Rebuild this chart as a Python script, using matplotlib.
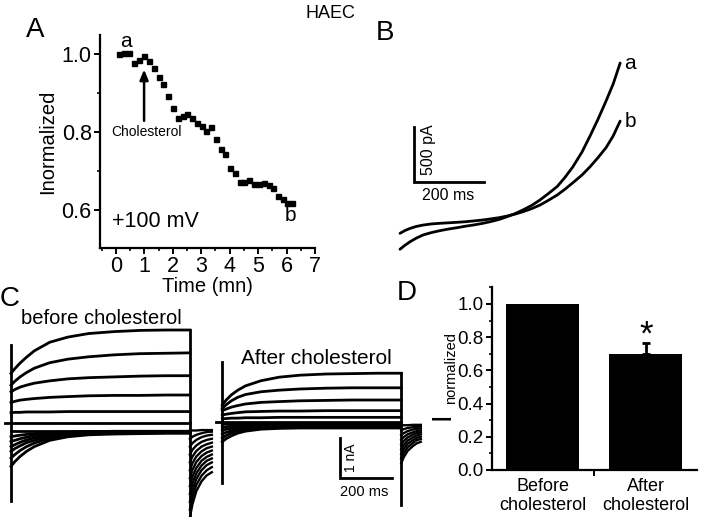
import matplotlib
matplotlib.use("Agg")
import matplotlib.pyplot as plt
from matplotlib.ticker import MultipleLocator, FixedLocator, FormatStrFormatter
import numpy as np

plt.rcParams['font.family'] = ['Liberation Sans', 'DejaVu Sans']

# ---------------- data ----------------
# Panel A: normalized current vs time (min)
time_A = [0.12, 0.29, 0.47, 0.65, 0.82, 0.99, 1.16, 1.34, 1.50, 1.67, 1.83, 2.00,
          2.17, 2.35, 2.51, 2.68, 2.84, 3.02, 3.18, 3.35, 3.52, 3.68, 3.85, 4.01,
          4.18, 4.36, 4.52, 4.69, 4.86, 5.02, 5.19, 5.37, 5.53, 5.69, 5.87, 6.03, 6.20]
inorm_A = [1.000, 1.004, 1.003, 0.977, 0.985, 0.996, 0.984, 0.966, 0.941, 0.924, 0.893, 0.862,
           0.836, 0.842, 0.847, 0.836, 0.823, 0.817, 0.803, 0.812, 0.783, 0.757, 0.744, 0.709,
           0.696, 0.673, 0.672, 0.677, 0.668, 0.667, 0.669, 0.664, 0.656, 0.636, 0.628, 0.617, 0.617]

# Panel B: ramp currents (ms, pA)
t_B = [0, 14, 29, 46, 66, 89, 114, 137, 163, 186, 209, 234, 257, 283, 306,
       329, 351, 377, 400, 423, 449, 471, 494, 520, 543, 566, 589, 609, 629]
trace_a = [-175, -139, -106, -75, -45, -24, -6, 8, 21, 34, 45, 59, 75, 96, 121,
           149, 182, 225, 273, 329, 395, 477, 575, 709, 855, 1009, 1175, 1327, 1518]
trace_b = [-30, -5, 15, 32, 45, 55, 61, 65, 70, 75, 82, 90, 100, 112, 127,
           145, 166, 195, 227, 268, 318, 370, 430, 500, 575, 659, 750, 855, 990]

# Panel C: step currents (ms, nA)
t_step = [0, 15, 35, 60, 90, 150, 220, 300, 400, 500, 600, 692]
before_out = [
    [1.26, 1.38, 1.52, 1.67, 1.83, 2.05, 2.18, 2.27, 2.32, 2.35, 2.36, 2.36],
    [0.96, 1.06, 1.17, 1.28, 1.39, 1.53, 1.62, 1.68, 1.73, 1.76, 1.77, 1.78],
    [0.79, 0.85, 0.91, 0.96, 1.01, 1.07, 1.12, 1.15, 1.17, 1.19, 1.20, 1.20],
    [0.52, 0.55, 0.58, 0.60, 0.62, 0.65, 0.67, 0.69, 0.70, 0.70, 0.71, 0.71],
    [0.26, 0.27, 0.27, 0.28, 0.28, 0.28, 0.29, 0.29, 0.29, 0.29, 0.29, 0.29],
]
before_in = [
    [-0.20, -0.20, -0.20, -0.20, -0.20, -0.20, -0.20, -0.20, -0.20, -0.20, -0.20, -0.20],
    [-0.35, -0.33, -0.31, -0.29, -0.27, -0.24, -0.23, -0.22, -0.21, -0.21, -0.21, -0.21],
    [-0.47, -0.44, -0.40, -0.36, -0.32, -0.28, -0.25, -0.23, -0.23, -0.22, -0.22, -0.22],
    [-0.60, -0.55, -0.49, -0.43, -0.38, -0.31, -0.27, -0.25, -0.24, -0.23, -0.23, -0.23],
    [-0.72, -0.65, -0.58, -0.50, -0.44, -0.35, -0.29, -0.26, -0.25, -0.24, -0.24, -0.24],
    [-0.89, -0.80, -0.70, -0.60, -0.51, -0.39, -0.32, -0.28, -0.26, -0.26, -0.25, -0.25],
    [-1.10, -0.98, -0.85, -0.72, -0.60, -0.44, -0.35, -0.30, -0.28, -0.27, -0.26, -0.26],
]
after_out = [
    [0.42, 0.55, 0.68, 0.80, 0.91, 1.04, 1.13, 1.18, 1.21, 1.22, 1.23, 1.23],
    [0.34, 0.43, 0.53, 0.62, 0.69, 0.76, 0.80, 0.83, 0.85, 0.86, 0.86, 0.86],
    [0.28, 0.32, 0.37, 0.41, 0.45, 0.49, 0.51, 0.53, 0.54, 0.55, 0.55, 0.55],
    [0.17, 0.19, 0.21, 0.23, 0.25, 0.26, 0.27, 0.27, 0.28, 0.28, 0.28, 0.28],
    [0.07, 0.08, 0.09, 0.09, 0.10, 0.10, 0.11, 0.11, 0.11, 0.11, 0.11, 0.11],
]
after_in = [
    [-0.06, -0.06, -0.05, -0.05, -0.05, -0.05, -0.05, -0.05, -0.05, -0.05, -0.05, -0.05],
    [-0.14, -0.13, -0.11, -0.10, -0.09, -0.08, -0.08, -0.08, -0.08, -0.08, -0.08, -0.08],
    [-0.22, -0.19, -0.17, -0.14, -0.13, -0.11, -0.10, -0.10, -0.10, -0.10, -0.10, -0.10],
    [-0.31, -0.27, -0.23, -0.19, -0.16, -0.14, -0.13, -0.12, -0.12, -0.12, -0.12, -0.12],
    [-0.41, -0.35, -0.29, -0.24, -0.20, -0.16, -0.15, -0.14, -0.14, -0.14, -0.14, -0.14],
    [-0.51, -0.43, -0.36, -0.29, -0.24, -0.19, -0.17, -0.16, -0.16, -0.16, -0.16, -0.16],
]
t_tail_before = [0, 10, 25, 45, 65, 85]
tail_before = [
    [-0.20, -0.19, -0.19, -0.18, -0.18, -0.18],
    [-0.40, -0.35, -0.30, -0.26, -0.23, -0.22],
    [-0.60, -0.51, -0.43, -0.36, -0.32, -0.30],
    [-0.80, -0.68, -0.57, -0.48, -0.43, -0.40],
    [-1.00, -0.85, -0.71, -0.60, -0.54, -0.50],
    [-1.20, -1.02, -0.85, -0.72, -0.64, -0.60],
    [-1.40, -1.19, -0.99, -0.84, -0.75, -0.70],
    [-1.60, -1.36, -1.14, -0.96, -0.86, -0.80],
    [-1.80, -1.53, -1.28, -1.08, -0.96, -0.90],
    [-2.00, -1.70, -1.42, -1.20, -1.07, -1.00],
    [-2.20, -1.88, -1.57, -1.34, -1.20, -1.12],
    [-2.40, -2.06, -1.73, -1.48, -1.33, -1.25],
]
t_tail_after = [0, 10, 25, 45, 60, 76]
tail_after = [
    [-0.10, -0.09, -0.09, -0.08, -0.08, -0.08],
    [-0.22, -0.19, -0.16, -0.14, -0.13, -0.12],
    [-0.34, -0.29, -0.24, -0.20, -0.18, -0.17],
    [-0.46, -0.39, -0.32, -0.27, -0.24, -0.22],
    [-0.58, -0.49, -0.40, -0.33, -0.29, -0.27],
    [-0.70, -0.59, -0.48, -0.40, -0.35, -0.32],
    [-0.82, -0.69, -0.56, -0.47, -0.41, -0.38],
    [-0.94, -0.79, -0.65, -0.54, -0.47, -0.44],
    [-1.06, -0.90, -0.74, -0.62, -0.55, -0.51],
]
cap_before = (1.98, -1.98)
cap_after = (1.52, -1.56)
off_before = (2.36, -2.41)
off_after = (1.23, -2.11)

# Panel D
categories_D = ['Before\ncholesterol', 'After\ncholesterol']
values_D = [1.0, 0.70]
sem_D = [0.0, 0.065]

# ---------------- figure ----------------
W, H = 703, 517
fig = plt.figure(figsize=(W / 100, H / 100), dpi=100)


def ax_px(x0, y0, x1, y1):
    return fig.add_axes([x0 / W, 1 - y1 / H, (x1 - x0) / W, (y1 - y0) / H])


def ftext(x, y, s, **kw):
    fig.text(x / W, 1 - y / H, s, **kw)


LW = 2.0

# ---- Panel A ----
axA = ax_px(100, 35, 315, 248)
axA.plot(time_A, inorm_A, ls='none', marker='s', ms=3.6, color='black')
axA.set_xlim(-0.56, 7.0)
axA.set_ylim(0.5026, 1.0495)
for s in ['top', 'right']:
    axA.spines[s].set_visible(False)
for s in ['left', 'bottom']:
    axA.spines[s].set_linewidth(1.6)
axA.xaxis.set_major_locator(MultipleLocator(1))
axA.xaxis.set_minor_locator(MultipleLocator(0.5))
axA.yaxis.set_major_locator(FixedLocator([0.6, 0.8, 1.0]))
axA.yaxis.set_minor_locator(FixedLocator([0.7, 0.9]))
axA.yaxis.set_major_formatter(FormatStrFormatter('%.1f'))
axA.tick_params(which='major', length=4, width=1.4, labelsize=15.5, pad=2)
axA.tick_params(which='minor', length=2.5, width=1.2)
axA.set_xlabel('Time (mn)', fontsize=14.5, labelpad=0)
axA.set_ylabel('Inormalized', fontsize=14.5, labelpad=3)
axA.text(0.35, 1.032, 'a', fontsize=15, ha='center', va='center')
axA.text(6.13, 0.585, 'b', fontsize=15, ha='center', va='center')
axA.text(-0.14, 0.57, '+100 mV', fontsize=15.5, ha='left', va='center')
axA.annotate('', xy=(0.99, 0.968), xytext=(0.99, 0.822),
             arrowprops=dict(arrowstyle='-|>,head_width=0.25,head_length=0.6',
                             color='black', lw=1.8))
axA.text(1.08, 0.80, 'Cholesterol', fontsize=10, ha='center', va='center')

ftext(35, 30, 'A', fontsize=20, ha='center', va='center')
ftext(330, 13, 'HAEC', fontsize=13, ha='center', va='center')

# ---- Panel B ----
axB = ax_px(385, 40, 640, 260)
axB.plot(t_B, trace_a, color='black', lw=LW, solid_capstyle='round')
axB.plot(t_B, trace_b, color='black', lw=LW, solid_capstyle='round')
axB.set_xlim(-42.9, 685.7)
axB.set_ylim(-272.7, 1727.3)
axB.axis('off')
# scale bar: 200 ms, 500 pA
axB.plot([40, 40, 240], [936, 436, 436], color='black', lw=LW, solid_joinstyle='miter')
axB.text(t_B[-1] + 12, trace_a[-1], 'a', fontsize=15, ha='left', va='center')
axB.text(t_B[-1] + 12, trace_b[-1], 'b', fontsize=15, ha='left', va='center')
ftext(428, 150, '500 pA', fontsize=11.5, rotation=90, ha='center', va='center')
ftext(448, 195, '200 ms', fontsize=11.5, ha='center', va='center')
ftext(385, 33, 'B', fontsize=20, ha='center', va='center')


# ---- Panel C ----
def draw_family(ax, outs, ins, tails, t_tail, cap, off):
    ax.plot([-23, t_step[-1]], [0, 0], color='black', lw=LW)
    for tr in outs + ins:
        ax.plot(t_step, tr, color='black', lw=LW)
    ax.plot([0, 0], list(cap), color='black', lw=LW)
    ax.plot([t_step[-1], t_step[-1]], list(off), color='black', lw=LW)
    for tr in tails:
        ax.plot([t_step[-1] + t for t in t_tail], tr, color='black', lw=1.7)
    ax.axis('off')


axC1 = ax_px(0, 320, 215, 517)
draw_family(axC1, before_out, before_in, tail_before, t_tail_before, cap_before, off_before)
axC1.set_xlim(-42.55, 789.2)
axC1.set_ylim(-2.386, 2.614)

axC2 = ax_px(215, 320, 435, 517)
draw_family(axC2, after_out, after_in, tail_after, t_tail_after, cap_after, off_after)
axC2.set_xlim(-28.24, 822.8)
axC2.set_ylim(-2.419, 2.581)
# scale bar: 200 ms, 1 nA
axC2.plot([455.3, 455.3, 655.3], [-0.42, -1.42, -1.42], color='black', lw=LW,
          solid_joinstyle='miter')

ftext(101, 318, 'before cholesterol', fontsize=14.5, ha='center', va='center')
ftext(316, 358, 'After cholesterol', fontsize=15, ha='center', va='center')
ftext(351, 458, '1 nA', fontsize=10, rotation=90, ha='center', va='center')
ftext(364, 492, '200 ms', fontsize=10.5, ha='center', va='center')
ftext(10, 299, 'C', fontsize=20, ha='center', va='center')

# ---- Panel D ----
axD = ax_px(491.7, 286.7, 696.7, 470)
xD = np.arange(len(categories_D))
axD.bar(xD, values_D, width=0.71, color='black')
axD.errorbar(xD[1:], values_D[1:], yerr=[[0], sem_D[1:]], fmt='none', ecolor='black',
             elinewidth=2, capsize=3, capthick=2)
axD.set_xlim(-0.492, 1.493)
axD.set_ylim(0, 1.104)
for s in ['top', 'right']:
    axD.spines[s].set_visible(False)
for s in ['left', 'bottom']:
    axD.spines[s].set_linewidth(1.6)
axD.set_xticks(xD)
axD.set_xticklabels(categories_D, fontsize=13, linespacing=1.15)
axD.xaxis.set_minor_locator(FixedLocator([0.5]))
axD.tick_params(axis='x', which='major', length=0, pad=6)
axD.tick_params(axis='x', which='minor', length=4, width=1.4)
axD.yaxis.set_major_locator(MultipleLocator(0.2))
axD.yaxis.set_minor_locator(MultipleLocator(0.1))
axD.yaxis.set_major_formatter(FormatStrFormatter('%.1f'))
axD.tick_params(axis='y', which='major', length=4, width=1.4, labelsize=13.5, pad=2)
axD.tick_params(axis='y', which='minor', length=2.5, width=1.2)
axD.text(1, 0.755, '*', fontsize=25, ha='center', va='baseline')
ftext(443, 416, 'I', fontsize=20, rotation=90, ha='center', va='center')
ftext(451, 368, 'normalized', fontsize=10.5, rotation=90, ha='center', va='center')
ftext(407, 293, 'D', fontsize=20, ha='center', va='center')

fig.savefig('out.png', dpi=100)
